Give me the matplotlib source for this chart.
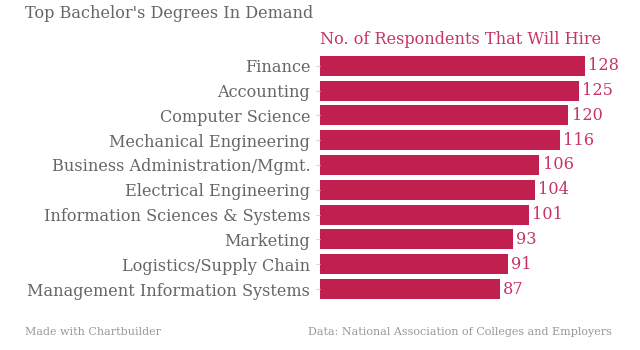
import matplotlib
matplotlib.use("Agg")
import matplotlib.pyplot as plt

categories = ["Finance", "Accounting", "Computer Science", "Mechanical Engineering",
              "Business Administration/Mgmt.", "Electrical Engineering",
              "Information Sciences & Systems", "Marketing", "Logistics/Supply Chain",
              "Management Information Systems"]
values = [128, 125, 120, 116, 106, 104, 101, 93, 91, 87]

title = "Top Bachelor's Degrees In Demand"
subtitle = "No. of Respondents That Will Hire"
credit = "Made with Chartbuilder"
source = "Data: National Association of Colleges and Employers"

bar_color = "#C01F50"
label_color = "#C8336A"
text_gray = "#666666"
font = "DejaVu Serif"
fs = 11.6

fig = plt.figure(figsize=(6.4, 3.5), dpi=100)
ax = fig.add_axes([320/640, 1-301.4/350, 320/640, 248/350])
ys = list(range(len(categories)))
ax.barh(ys, values, height=0.8, color=bar_color)
ax.set_ylim(len(categories)-0.5, -0.5)
ax.set_xlim(0, 320/2.07)
ax.set_yticks(ys)
ax.set_yticklabels(categories, fontsize=fs, family=font, color=text_gray)
ax.tick_params(axis="y", length=3, color="#F2C6D3", pad=4)
ax.set_xticks([])
for s in ax.spines.values():
    s.set_visible(False)
for y, v in zip(ys, values):
    ax.text(v + 1.5, y, str(v), va="center", ha="left", fontsize=fs,
            family=font, color=label_color)

fig.text(25/640, 1-14/350, title, fontsize=fs, family=font, color=text_gray, va="center")
fig.text(320/640, 1-40/350, subtitle, fontsize=fs, family=font, color=label_color, va="center")
fig.text(25/640, 1-332/350, credit, fontsize=8, family=font, color="#999999", va="center")
fig.text(612/640, 1-332/350, source, fontsize=8, family=font, color="#999999", va="center", ha="right")

fig.savefig("out.png", dpi=100)
